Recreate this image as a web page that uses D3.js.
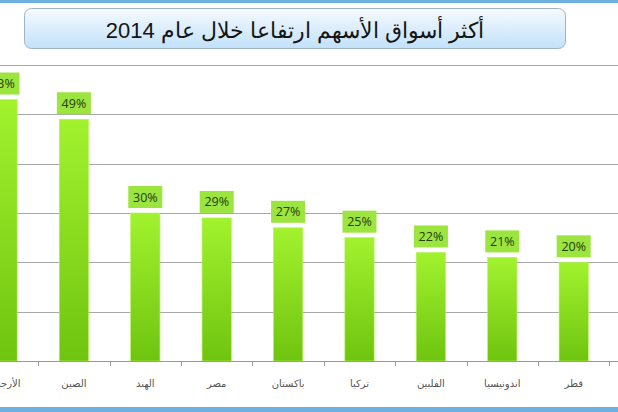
<!DOCTYPE html>
<html>
<head>
<meta charset="utf-8">
<script src="https://cdn.jsdelivr.net/npm/d3@7"></script>
<style>
  html, body { margin: 0; padding: 0; background: #fff; }
  svg { display: block; }
</style>
</head>
<body>
<div id="chart"></div>
<script>
// countries, left to right as drawn
var countries = ["الأرجنتين", "الصين", "الهند", "مصر", "باكستان", "تركيا", "الفلبين", "اندونيسيا", "قطر"];
var gains = [53, 49, 30, 29, 27, 25, 22, 21, 20];
var gridTicks = [0, 10, 20, 30, 40, 50, 60];
var title = "أكثر أسواق الأسهم ارتفاعا خلال عام 2014";

var W = 618, H = 412;

var svg = d3.select("#chart")
    .append("svg")
    .attr("width", W)
    .attr("height", H);

var defs = svg.append("defs");

var barGrad = defs.append("linearGradient")
    .attr("id", "barGrad")
    .attr("x1", 0).attr("y1", 0).attr("x2", 0).attr("y2", 1);
barGrad.append("stop").attr("offset", "0%").attr("stop-color", "#a2f22e");
barGrad.append("stop").attr("offset", "100%").attr("stop-color", "#6fc40f");

var titleGrad = defs.append("linearGradient")
    .attr("id", "titleGrad")
    .attr("x1", 0).attr("y1", 0).attr("x2", 0).attr("y2", 1);
titleGrad.append("stop").attr("offset", "0%").attr("stop-color", "#f6fafe");
titleGrad.append("stop").attr("offset", "100%").attr("stop-color", "#c2e1fa");

//page frame lines top and bottom
svg.append("rect")
    .attr("x", 0).attr("y", 0)
    .attr("width", W).attr("height", 3)
    .attr("fill", "#6fb0e2");
svg.append("rect")
    .attr("x", 0).attr("y", 407)
    .attr("width", W).attr("height", 5)
    .attr("fill", "#6fb0e2");

//title box
svg.append("rect")
    .attr("x", 24.5).attr("y", 8.5)
    .attr("width", 541).attr("height", 40)
    .attr("rx", 7).attr("ry", 7)
    .attr("fill", "url(#titleGrad)")
    .attr("stroke", "#9fb3c6")
    .attr("stroke-width", 1);

svg.append("text")
    .attr("x", 295)
    .attr("y", 38)
    .attr("text-anchor", "middle")
    .attr("direction", "rtl")
    .attr("font-family", "'Liberation Sans', Arial, sans-serif")
    .attr("font-size", "22px")
    .attr("fill", "#151515")
    .text(title);

var x = d3.scaleBand()
    .domain(countries)
    .range([-33.2, 609.4])
    .paddingInner(0.59)
    .paddingOuter(0.295);

var xTicks = d3.scaleBand()
    .domain(countries)
    .range([-33.2, 609.4]);

var y = d3.scaleLinear()
    .domain([0, 60])
    .range([361, 65]);

//grid lines
svg.append("g")
    .selectAll("line")
    .data(gridTicks.slice(1))
    .join("line")
    .attr("x1", 0)
    .attr("x2", W)
    .attr("y1", function (d) { return Math.round(y(d)) + 0.5; })
    .attr("y2", function (d) { return Math.round(y(d)) + 0.5; })
    .attr("stroke", "#a8a8a8")
    .attr("stroke-width", 1);

//bars
svg.append("g")
    .selectAll("rect")
    .data(gains)
    .join("rect")
    .attr("x", function (d, i) { return x(countries[i]); })
    .attr("y", function (d) { return y(d); })
    .attr("width", x.bandwidth())
    .attr("height", function (d) { return y(0) - y(d); })
    .attr("fill", "url(#barGrad)")
    .attr("stroke", "#b4f55a")
    .attr("stroke-width", 0.6);

//x axis
var axis = svg.append("g")
    .attr("transform", "translate(0," + y(0) + ")");
axis.append("line")
    .attr("x1", 0).attr("x2", W)
    .attr("y1", 0.5).attr("y2", 0.5)
    .attr("stroke", "#9a9a9a");
axis.selectAll(".tick")
    .data(countries)
    .join("line")
    .attr("class", "tick")
    .attr("x1", function (d) { return Math.round(xTicks(d) + xTicks.bandwidth()) + 0.5; })
    .attr("x2", function (d) { return Math.round(xTicks(d) + xTicks.bandwidth()) + 0.5; })
    .attr("y1", 0)
    .attr("y2", 5)
    .attr("stroke", "#9a9a9a");

axis.selectAll(".lbl")
    .data(countries)
    .join("text")
    .attr("class", "lbl")
    .attr("x", function (d) { return xTicks(d) + xTicks.bandwidth() / 2; })
    .attr("y", 26)
    .attr("text-anchor", "middle")
    .attr("font-family", "'DejaVu Sans', sans-serif")
    .attr("font-size", "10px")
    .attr("fill", "#555")
    .text(function (d) { return d; });

//value labels
var labels = svg.append("g")
    .selectAll("g")
    .data(gains)
    .join("g")
    .attr("transform", function (d, i) {
        return "translate(" + (x(countries[i]) + x.bandwidth() / 2) + "," + (y(d) - 16) + ")";
    });

labels.append("rect")
    .attr("x", -17)
    .attr("y", -11)
    .attr("width", 34)
    .attr("height", 22)
    .attr("fill", "#9ce43e");

labels.append("text")
    .attr("y", 4.5)
    .attr("text-anchor", "middle")
    .attr("font-family", "'Open Sans', 'Liberation Sans', sans-serif")
    .attr("font-size", "12.5px")
    .attr("fill", "#223d0e")
    .text(function (d) { return d + "%"; });
</script>
</body>
</html>
